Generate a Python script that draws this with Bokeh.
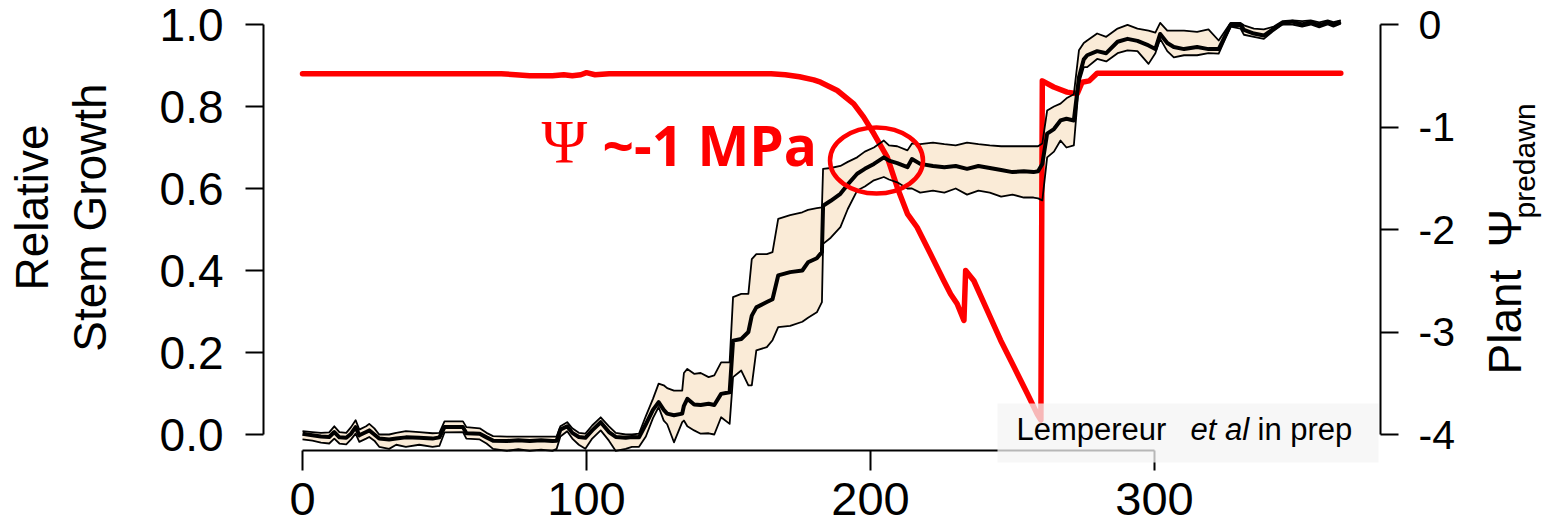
import math
from bokeh.plotting import figure
from bokeh.models import (Range1d, LinearAxis, FixedTicker, Label, BoxAnnotation,
                          PrintfTickFormatter)
from bokeh.embed import file_html
from bokeh.resources import INLINE

# ---------------- data ----------------
day = [0, 3.5, 6.5, 9.4, 11.2, 13, 15.4, 17.1, 18.7, 20, 22.4, 23.5, 25.3, 27, 30.5, 33,
       36.4, 41.1, 45.8, 48.2, 50, 56.5, 57.7, 62.4, 64.8, 67.1, 72, 76, 80, 84, 88, 89.5,
       90.8, 93.2, 95, 97.3, 99.6, 102, 105, 107.9, 110.3, 113.8, 116, 118.5, 120.9, 123.4,
       125.4, 127.2, 128.4, 130.8, 133.7, 134.3, 135.5, 137.9, 140.2, 143, 145, 147.4, 150.4,
       151.6, 154.5, 157, 158.2, 159.8, 163.5, 165.5, 167.5, 171.7, 176, 178, 181.1, 182.9,
       183.3, 186, 189.4, 192, 195.3, 198, 201.2, 204.7, 206.5, 209.4, 213, 214.6, 217.5,
       222, 226, 230, 234, 238, 242, 246, 250, 254, 257.4, 259, 260.5, 262.2, 264.6, 266.9,
       269, 271.6, 273.4, 275.1, 276.3, 279.8, 283, 287, 290.5, 294, 297.9, 300.3, 302,
       304.5, 306.8, 310.4, 315, 319, 322.6, 326.8, 330.3, 331.5, 335, 338.5, 342, 345,
       348.6, 352, 355, 358, 361, 363, 365.6]

growth_lower = [-0.012, -0.015, -0.02, -0.022, -0.01, -0.022, -0.024, -0.012, 0.002, -0.018,
                -0.01, -0.006, -0.015, -0.03, -0.035, -0.025, -0.03, -0.025, -0.03, -0.028,
                0.005, 0.006, -0.01, -0.012, -0.022, -0.035, -0.04, -0.036, -0.04, -0.037,
                -0.04, -0.035, -0.005, 0.008, -0.01, -0.025, -0.035, -0.01, 0.01, -0.015,
                -0.04, -0.035, -0.03, -0.03, -0.005, 0.04, 0.067, 0.034, 0.025, -0.019, 0.03,
                0.034, 0.02, 0.01, 0.002, 0.003, 0.0, 0.042, 0.026, 0.14, 0.156, 0.12, 0.12,
                0.205, 0.213, 0.23, 0.262, 0.265, 0.275, 0.285, 0.298, 0.323, 0.465, 0.48,
                0.506, 0.55, 0.595, 0.605, 0.62, 0.628, 0.622, 0.615, 0.6, 0.6, 0.59, 0.595,
                0.59, 0.6, 0.585, 0.595, 0.59, 0.58, 0.585, 0.578, 0.578, 0.576, 0.571, 0.676,
                0.69, 0.717, 0.7, 0.705, 0.856, 0.896, 0.896, 0.916, 0.91, 0.93, 0.937, 0.935,
                0.904, 0.93, 0.965, 0.935, 0.92, 0.925, 0.925, 0.93, 0.929, 0.995, 0.99, 0.975,
                0.97, 0.965, 0.985, 1.0, 1.0, 0.995, 1.0, 0.993, 1.0, 0.995, 1.002]

growth_mean = [0.002, -0.002, -0.005, -0.006, 0.006, -0.007, -0.008, 0.002, 0.018, -0.002,
               0.006, 0.01, 0.0, -0.01, -0.012, -0.01, -0.007, -0.008, -0.01, -0.007, 0.018,
               0.018, 0.003, 0.002, -0.007, -0.015, -0.016, -0.014, -0.016, -0.014, -0.016,
               -0.015, 0.012, 0.02, 0.004, -0.006, -0.008, 0.01, 0.03, 0.006, -0.006, -0.008,
               -0.006, -0.007, 0.025, 0.06, 0.079, 0.06, 0.051, 0.047, 0.051, 0.07, 0.087,
               0.073, 0.072, 0.075, 0.072, 0.099, 0.103, 0.229, 0.233, 0.25, 0.29, 0.31, 0.323,
               0.33, 0.388, 0.396, 0.4, 0.42, 0.43, 0.445, 0.558, 0.57, 0.587, 0.61, 0.636,
               0.648, 0.66, 0.676, 0.668, 0.662, 0.652, 0.672, 0.66, 0.655, 0.652, 0.655,
               0.648, 0.655, 0.65, 0.645, 0.64, 0.642, 0.64, 0.642, 0.66, 0.734, 0.745, 0.766,
               0.77, 0.766, 0.871, 0.915, 0.925, 0.935, 0.93, 0.958, 0.965, 0.96, 0.949, 0.94,
               0.977, 0.955, 0.945, 0.94, 0.945, 0.94, 0.94, 0.999, 0.999, 0.987, 0.978, 0.973,
               0.99, 1.003, 1.007, 1.0, 1.006, 0.998, 1.005, 1.0, 1.007]

growth_upper = [0.008, 0.006, 0.004, 0.005, 0.02, 0.006, 0.004, 0.018, 0.035, 0.012, 0.02,
                0.026, 0.015, 0.0, 0.0, 0.004, 0.008, 0.006, 0.003, 0.004, 0.032, 0.032,
                0.018, 0.015, 0.004, -0.004, -0.005, -0.005, -0.005, -0.005, -0.005, -0.005,
                0.02, 0.03, 0.015, 0.004, 0.002, 0.022, 0.042, 0.02, 0.004, 0.0, 0.0, 0.002,
                0.045, 0.087, 0.124, 0.12, 0.113, 0.107, 0.107, 0.15, 0.16, 0.148, 0.15, 0.14,
                0.144, 0.176, 0.176, 0.335, 0.343, 0.343, 0.428, 0.44, 0.44, 0.445, 0.526,
                0.535, 0.542, 0.548, 0.552, 0.554, 0.648, 0.65, 0.655, 0.665, 0.676, 0.69, 0.7,
                0.717, 0.705, 0.703, 0.693, 0.71, 0.708, 0.712, 0.708, 0.705, 0.712, 0.708,
                0.705, 0.703, 0.703, 0.703, 0.703, 0.703, 0.71, 0.79, 0.8, 0.807, 0.82, 0.83,
                0.937, 0.955, 0.961, 0.978, 0.97, 0.99, 0.999, 0.99, 0.985, 0.98, 1.004, 0.985,
                0.985, 0.985, 0.982, 0.988, 0.961, 1.004, 1.004, 0.998, 0.99, 0.988, 0.995,
                1.008, 1.01, 1.008, 1.01, 1.005, 1.01, 1.006, 1.01]

psi_day = [0, 70, 75, 80, 88, 92, 95, 98, 100, 103, 108, 150, 165, 170, 175, 180, 182.4,
           188.3, 194.1, 197.6, 201.2, 205.9, 209.4, 213, 216.4, 221.1, 225.8, 228.2, 230.5,
           232.9, 233.5, 236.4, 241.1, 245.8, 250.5, 255.2, 258.7, 260.0, 260.5, 264.5, 269.2,
           272.8, 274.5, 277, 279.8, 365.6]
psi_predawn = [-0.48, -0.48, -0.49, -0.5, -0.5, -0.49, -0.5, -0.49, -0.47, -0.49, -0.48,
               -0.48, -0.48, -0.49, -0.51, -0.54, -0.563, -0.644, -0.774, -0.904, -1.066,
               -1.294, -1.587, -1.847, -1.978, -2.237, -2.5, -2.63, -2.725, -2.888, -2.4, -2.5,
               -2.79, -3.08, -3.34, -3.6, -3.8, -3.86, -0.55, -0.61, -0.66, -0.676, -0.563,
               -0.55, -0.475, -0.475]

x_ticks = [0, 100, 200, 300]
growth_ticks = [0.0, 0.2, 0.4, 0.6, 0.8, 1.0]
psi_ticks = [0, -1, -2, -3, -4]

# ---------------- layout helpers (pixel geometry) ----------------
W, H = 1549, 529
AX_L, AX_R, AX_B = 263, 1380, 450   # pixel positions of left, right and bottom axis lines
X0, XS = 302, 2.84          # pixel of day 0, px per day
Y0, YS = 434, 410.0         # pixel of growth 0, px per unit
W0, WS = 24, 102.5          # pixel of psi 0, px per MPa
BASE = 0.44                 # baseline correction (fraction of font size)

def dx(px):
    return (px - X0) / XS

def dy(py):
    return (Y0 - py) / YS

FONT = "Liberation Sans"

# the frame covers the whole canvas; axes are drawn at fixed positions inside it
p = figure(width=W, height=H, output_backend="svg", toolbar_location=None,
           x_range=Range1d(dx(0), dx(W)), y_range=Range1d(dy(H), dy(0)),
           min_border=0, min_border_left=0, min_border_right=0,
           min_border_top=0, min_border_bottom=0,
           x_axis_location=None, y_axis_location=None)
p.extra_y_ranges = {"psi": Range1d(-(H - W0) / WS, W0 / WS)}
p.grid.visible = False
p.outline_line_color = None
p.background_fill_color = "white"
p.border_fill_color = "white"

def style_axis(ax, size, out):
    ax.axis_line_width = 2
    ax.axis_line_color = "black"
    ax.major_tick_line_width = 2
    ax.major_tick_in = 0
    ax.major_tick_out = out
    ax.minor_tick_line_color = None
    ax.major_label_text_font = FONT
    ax.major_label_text_font_size = size
    ax.major_label_text_color = "black"

xa = LinearAxis(ticker=FixedTicker(ticks=x_ticks), bounds=(0, 300),
                formatter=PrintfTickFormatter(format="%d"), fixed_location=dy(AX_B))
style_axis(xa, "47px", 20)
xa.major_label_standoff = 12
p.add_layout(xa, "below")

ya = LinearAxis(ticker=FixedTicker(ticks=growth_ticks), bounds=(0, 1),
                formatter=PrintfTickFormatter(format="%.1f"), fixed_location=dx(AX_L))
style_axis(ya, "46px", 18)
ya.major_label_standoff = 22
p.add_layout(ya, "left")

ra = LinearAxis(y_range_name="psi", ticker=FixedTicker(ticks=psi_ticks), bounds=(-4, 0),
                formatter=PrintfTickFormatter(format="%d"), fixed_location=dx(AX_R))
style_axis(ra, "41px", 18)
ra.major_label_standoff = 20
p.add_layout(ra, "right")

# band + lines
p.varea(x=day, y1=growth_lower, y2=growth_upper, fill_color="#FAEBD7", fill_alpha=1)
p.line(psi_day, psi_predawn, y_range_name="psi", line_color="#FF0000", line_width=5.5,
       line_join="round", line_cap="round")
p.line(day, growth_upper, line_color="black", line_width=1.8, line_join="round")
p.line(day, growth_lower, line_color="black", line_width=1.8, line_join="round")
p.line(day, growth_mean, line_color="black", line_width=4, line_join="round")

# red ellipse annotation
p.ellipse(x=[dx(876)], y=[dy(160)], width=93, height=66, width_units="screen",
          height_units="screen", fill_color=None, line_color="#FF0000", line_width=4.5)

def htext(px, base_py, text, size, color="black", font=FONT, style="normal"):
    p.add_layout(Label(x=dx(px), y=dy(base_py - BASE * size), text=text, text_font=font,
                       text_font_size=f"{size}px", text_font_style=style, text_color=color,
                       text_baseline="alphabetic"))

def vtext(base_px, start_py, text, size, align="left"):
    p.add_layout(Label(x=dx(base_px - BASE * size), y=dy(start_py), text=text,
                       angle=math.pi / 2, text_font=FONT, text_font_size=f"{size}px",
                       text_color="black", text_align=align, text_baseline="alphabetic"))

# annotation text
htext(541, 168, "Ψ", 62, color="#FF0000", font="Liberation Serif")
htext(602, 168, "~-1 MPa", 55, color="#FF0000", font="Open Sans", style="bold")

# axis titles
vtext(52, 207, "Relative", 46, align="center")
vtext(110, 217, "Stem Growth", 46, align="center")
vtext(1525, 374, "Plant", 46)
vtext(1525, 247, "Ψ", 46)
vtext(1537, 218, "predawn", 30)

# citation box
p.add_layout(BoxAnnotation(left=dx(997), right=dx(1378), top=dy(403), bottom=dy(462),
                           fill_color="#F4F4F4", fill_alpha=0.75, line_color=None))
htext(1016, 443, "Lempereur", 31)
htext(1190, 443, "et al", 31, style="italic")
htext(1257, 443, "in prep", 31)

open("out.html", "w").write(file_html(p, INLINE))
